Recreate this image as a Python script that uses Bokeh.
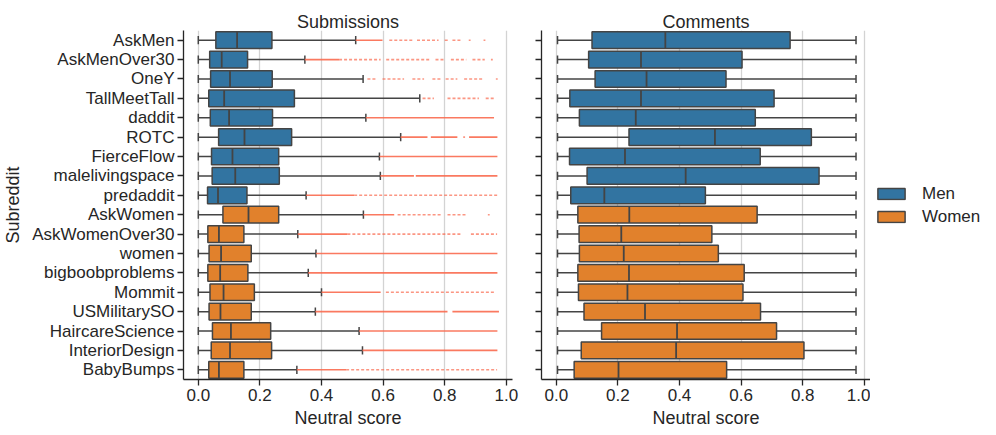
from bokeh.plotting import figure
from bokeh.models import (ColumnDataSource, FactorRange, Range1d, FixedTicker,
                          PrintfTickFormatter, Legend, LegendItem)
from bokeh.transform import dodge
from bokeh.layouts import row
from bokeh.embed import file_html
from bokeh.resources import INLINE

# ---------------- data ----------------
subs = ["AskMen", "AskMenOver30", "OneY", "TallMeetTall", "daddit", "ROTC",
        "FierceFlow", "malelivingspace", "predaddit",
        "AskWomen", "AskWomenOver30", "women", "bigboobproblems", "Mommit",
        "USMilitarySO", "HaircareScience", "InteriorDesign", "BabyBumps"]
gender = ["Men"] * 9 + ["Women"] * 9
groups = ["Men", "Women"]

# Submissions: whisker low, Q1, median, Q3, whisker high
sub_wlo = [0.0] * 18
sub_q1 = [0.057, 0.037, 0.040, 0.034, 0.039, 0.066, 0.043, 0.045, 0.030,
          0.080, 0.031, 0.035, 0.031, 0.038, 0.035, 0.046, 0.042, 0.034]
sub_med = [0.126, 0.076, 0.103, 0.084, 0.100, 0.150, 0.111, 0.120, 0.064,
           0.163, 0.067, 0.074, 0.071, 0.082, 0.072, 0.106, 0.103, 0.067]
sub_q3 = [0.239, 0.160, 0.240, 0.312, 0.241, 0.303, 0.261, 0.263, 0.158,
          0.261, 0.148, 0.172, 0.161, 0.182, 0.172, 0.235, 0.238, 0.148]
sub_whi = [0.511, 0.346, 0.535, 0.719, 0.544, 0.657, 0.588, 0.591, 0.350,
           0.536, 0.323, 0.382, 0.357, 0.400, 0.380, 0.522, 0.533, 0.320]

# Submission outliers: (start, end) ranges of densely / sparsely packed points
flier_dense = {
    "AskMen": [(0.511, 0.598)],
    "AskMenOver30": [(0.346, 0.457)],
    "OneY": [],
    "TallMeetTall": [],
    "daddit": [(0.544, 0.960)],
    "ROTC": [(0.657, 0.744), (0.755, 0.841), (0.879, 0.971)],
    "FierceFlow": [(0.588, 0.971)],
    "malelivingspace": [(0.591, 0.700), (0.706, 0.971)],
    "predaddit": [(0.350, 0.506)],
    "AskWomen": [(0.536, 0.636)],
    "AskWomenOver30": [(0.323, 0.484)],
    "women": [(0.382, 0.971)],
    "bigboobproblems": [(0.357, 0.971)],
    "Mommit": [(0.400, 0.592)],
    "USMilitarySO": [(0.380, 0.809), (0.825, 0.976)],
    "HaircareScience": [(0.522, 0.971)],
    "InteriorDesign": [(0.533, 0.971)],
    "BabyBumps": [(0.320, 0.480)],
}
flier_sparse = {
    "AskMen": [(0.62, 0.70), (0.71, 0.78), (0.80, 0.81), (0.825, 0.852), (0.878, 0.884), (0.926, 0.932)],
    "AskMenOver30": [(0.457, 0.592), (0.61, 0.75), (0.77, 0.80), (0.82, 0.87), (0.89, 0.93), (0.95, 0.956)],
    "OneY": [(0.549, 0.577), (0.598, 0.668), (0.695, 0.733), (0.76, 0.787), (0.803, 0.841), (0.863, 0.922), (0.966, 0.972)],
    "TallMeetTall": [(0.728, 0.765), (0.809, 0.911), (0.933, 0.965)],
    "daddit": [],
    "ROTC": [(0.860, 0.866)],
    "FierceFlow": [],
    "malelivingspace": [],
    "predaddit": [(0.506, 0.971)],
    "AskWomen": [(0.647, 0.787), (0.809, 0.874), (0.940, 0.946)],
    "AskWomenOver30": [(0.484, 0.852), (0.885, 0.970)],
    "women": [],
    "bigboobproblems": [],
    "Mommit": [(0.609, 0.965)],
    "USMilitarySO": [],
    "HaircareScience": [],
    "InteriorDesign": [],
    "BabyBumps": [(0.480, 0.970)],
}

# Comments
com_wlo = [0.004] * 18
com_q1 = [0.116, 0.105, 0.126, 0.044, 0.075, 0.236, 0.043, 0.100, 0.047,
          0.070, 0.074, 0.075, 0.070, 0.072, 0.090, 0.147, 0.081, 0.058]
com_med = [0.354, 0.275, 0.293, 0.275, 0.258, 0.515, 0.223, 0.420, 0.156,
           0.237, 0.211, 0.219, 0.236, 0.231, 0.288, 0.392, 0.389, 0.202]
com_q3 = [0.759, 0.603, 0.551, 0.707, 0.646, 0.828, 0.662, 0.853, 0.484,
          0.652, 0.505, 0.526, 0.610, 0.606, 0.663, 0.715, 0.804, 0.553]
com_whi = [0.973] * 18

x_ticks = [0.0, 0.2, 0.4, 0.6, 0.8, 1.0]

# ---------------- style ----------------
COLORS = {"Men": "#3274a1", "Women": "#e1812c"}
EDGE = "#444444"
FLIER = "#fa6a4f"
TXT = "#262626"
FONT = "Liberation Sans"
BOX_H = 0.86
CAP_H = 0.42
TOP, BOTTOM, FH = 30, 42, 349


def group_source(g, q1, q3, med):
    idx = [i for i, gg in enumerate(gender) if gg == g]
    return ColumnDataSource(dict(sub=[subs[i] for i in idx],
                                 q1=[q1[i] for i in idx],
                                 q3=[q3[i] for i in idx],
                                 med=[med[i] for i in idx]))


def panel(title, wlo, q1, med, q3, whi, left_border, right_border, first,
          dense=None, sparse=None):
    p = figure(y_range=FactorRange(factors=subs[::-1]),
               x_range=Range1d(-0.048, 1.02),
               frame_width=329, frame_height=FH,
               min_border_left=left_border, min_border_right=right_border,
               min_border_top=TOP, min_border_bottom=BOTTOM,
               output_backend="svg", toolbar_location=None, title=title)
    p.outline_line_color = None
    p.background_fill_color = "white"
    p.border_fill_color = "white"

    p.title.align = "center"
    p.title.text_font = FONT
    p.title.text_font_size = "18px"
    p.title.text_font_style = "normal"
    p.title.text_color = TXT
    p.title.standoff = -2

    p.ygrid.grid_line_color = None
    p.xgrid.grid_line_color = "#d3d3d3"
    p.xgrid.grid_line_width = 1.3
    p.xaxis.ticker = FixedTicker(ticks=x_ticks)
    p.xaxis.formatter = PrintfTickFormatter(format="%.1f")
    for ax in (p.xaxis[0], p.yaxis[0]):
        ax.axis_line_color = TXT
        ax.axis_line_width = 1.3
        ax.major_tick_line_color = TXT
        ax.major_tick_line_width = 1.3
        ax.major_tick_out = 6
        ax.major_tick_in = 0
        ax.minor_tick_line_color = None
        ax.major_label_text_font = FONT
        ax.major_label_text_font_size = "17px"
        ax.major_label_text_color = TXT
        ax.major_label_standoff = 3
        ax.axis_label_text_font = FONT
        ax.axis_label_text_font_size = "18px"
        ax.axis_label_text_font_style = "normal"
        ax.axis_label_text_color = TXT
    p.xaxis.axis_label = "Neutral score"
    p.xaxis.axis_label_standoff = 4
    if first:
        p.yaxis.axis_label = "Subreddit"
        p.yaxis.axis_label_standoff = 6
    else:
        # shared y axis: tick marks only, labels are on the left panel
        p.yaxis.major_label_text_color = None
        p.yaxis.major_label_text_font_size = "0px"
        p.yaxis.major_label_standoff = 0

    src = ColumnDataSource(dict(sub=subs, g=gender, wlo=wlo, q1=q1, med=med,
                                q3=q3, whi=whi))
    # whiskers
    p.segment(x0="wlo", x1="q1", y0="sub", y1="sub", source=src,
              line_color=EDGE, line_width=1.5)
    p.segment(x0="q3", x1="whi", y0="sub", y1="sub", source=src,
              line_color=EDGE, line_width=1.5)
    for col in ("wlo", "whi"):
        p.segment(x0=col, x1=col,
                  y0=dodge("sub", -CAP_H / 2, range=p.y_range),
                  y1=dodge("sub", CAP_H / 2, range=p.y_range),
                  source=src, line_color=EDGE, line_width=1.5)

    # outliers
    if dense is not None:
        for spans, alpha, dash, lw in ((dense, 0.9, "solid", 1.6),
                                       (sparse, 0.7, "3 2", 1.6)):
            xs0, xs1, ys = [], [], []
            for s in subs:
                for a, b in spans[s]:
                    xs0.append(a)
                    xs1.append(b)
                    ys.append(s)
            fs = ColumnDataSource(dict(x0=xs0, x1=xs1, y=ys))
            p.segment(x0="x0", x1="x1", y0="y", y1="y", source=fs,
                      line_color=FLIER, line_alpha=alpha, line_width=lw,
                      line_dash=dash)

    for g in groups:
        gs = group_source(g, q1, q3, med)
        p.hbar(y="sub", left="q1", right="q3", height=BOX_H,
               source=gs, fill_color=COLORS[g], line_color=EDGE,
               line_width=1.5)
        p.segment(x0="med", x1="med",
                  y0=dodge("sub", -BOX_H / 2, range=p.y_range),
                  y1=dodge("sub", BOX_H / 2, range=p.y_range),
                  source=gs, line_color=EDGE, line_width=1.8)
    return p


p1 = panel("Submissions", sub_wlo, sub_q1, sub_med, sub_q3, sub_whi,
           175, 18, True, flier_dense, flier_sparse)
p2 = panel("Comments", com_wlo, com_q1, com_med, com_q3, com_whi,
           11, 0, False)

# legend panel: a bare figure whose frame only holds the legend
pl = figure(x_range=Range1d(0, 1), y_range=FactorRange(factors=subs[::-1]),
            frame_width=118, frame_height=FH,
            min_border_left=0, min_border_right=0,
            min_border_top=TOP, min_border_bottom=BOTTOM,
            x_axis_location=None, y_axis_location=None,
            output_backend="svg", toolbar_location=None)
pl.outline_line_color = None
pl.xgrid.visible = False
pl.ygrid.visible = False
items = []
for g in groups:
    # hidden proxy renderer (same box data) that only supplies the legend swatch
    r = pl.hbar(y="sub", left="q1", right="q3", height=BOX_H,
                source=group_source(g, com_q1, com_q3, com_med),
                fill_color=COLORS[g], line_color=EDGE, line_width=1.5,
                visible=False)
    items.append(LegendItem(label=g, renderers=[r]))
legend = Legend(items=items, location="left", click_policy="none")
legend.border_line_alpha = 0
legend.background_fill_alpha = 0
legend.inactive_fill_alpha = 0
legend.margin = 0
legend.padding = 4
legend.glyph_width = 34
legend.glyph_height = 14
legend.label_standoff = 14
legend.spacing = 3
legend.label_text_font = FONT
legend.label_text_font_size = "17px"
legend.label_text_color = TXT
pl.add_layout(legend)

layout = row(p1, p2, pl)
open("out.html", "w").write(file_html(layout, INLINE))
